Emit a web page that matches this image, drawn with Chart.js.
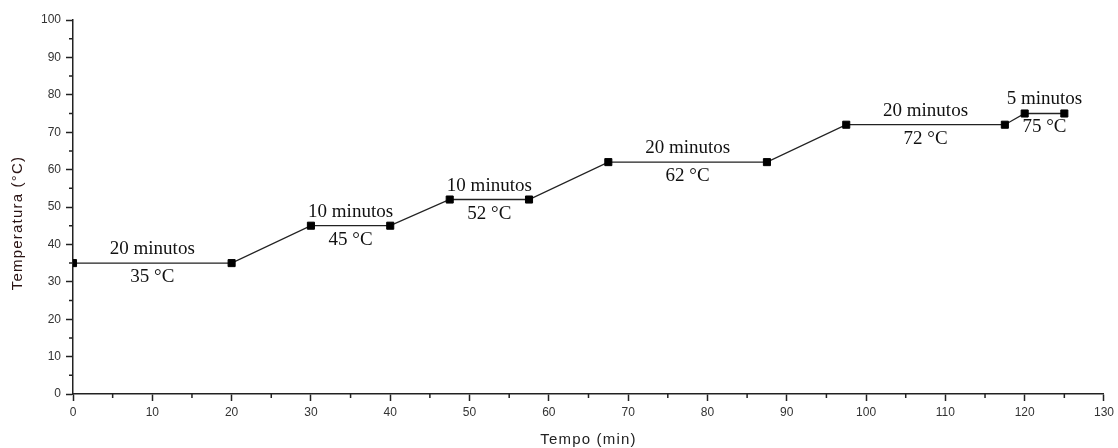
<!DOCTYPE html>
<html lang="pt">

<head>
    <meta charset="utf-8">
    <title>Temperatura x Tempo</title>
    <script src="https://cdn.jsdelivr.net/npm/chart.js"></script>
    <style>
        body {
            margin: 0;
            background-color: #ffffff;
        }

        #grafico {
            display: block;
        }
    </style>
</head>

<body>
    <canvas id="grafico" width="1118" height="448"></canvas>

    <script>
        // Rampa de temperatura: pontos de início e fim de cada patamar
        const tempoMin = [0, 20, 30, 40, 47.5, 57.5, 67.5, 87.5, 97.5, 117.5, 120, 125];
        const temperatura = [35, 35, 45, 45, 52, 52, 62, 62, 72, 72, 75, 75];

        // Duração de cada patamar (um rótulo por par de pontos)
        const duracao = ['20 minutos', '10 minutos', '10 minutos', '20 minutos', '20 minutos', '5 minutos'];

        const corEixo = '#222222';
        const fonteSerif = '"Liberation Serif", "Times New Roman", serif';
        const fonteSans = '"Liberation Sans", Arial, sans-serif';

        // Rótulos de cada patamar: duração acima da linha, temperatura abaixo
        const rotulosPatamar = {
            id: 'rotulosPatamar',
            afterDatasetsDraw(chart) {
                const { ctx, scales: { x, y } } = chart;
                ctx.save();
                ctx.font = '19px ' + fonteSerif;
                ctx.fillStyle = '#111111';
                ctx.textAlign = 'center';
                ctx.textBaseline = 'middle';
                duracao.forEach((txt, i) => {
                    const a = 2 * i, b = 2 * i + 1;
                    const px = x.getPixelForValue((tempoMin[a] + tempoMin[b]) / 2);
                    const py = y.getPixelForValue(temperatura[a]);
                    ctx.fillText(txt, px, py - 14);
                    ctx.fillText(temperatura[a] + ' °C', px, py + 14);
                });
                ctx.restore();
            }
        };

        // Marcas menores (a cada 5 unidades) e títulos dos eixos
        const eixosExtras = {
            id: 'eixosExtras',
            afterDraw(chart) {
                const { ctx, chartArea, scales: { x, y } } = chart;
                ctx.save();
                ctx.strokeStyle = corEixo;
                ctx.lineWidth = 1.5;
                ctx.beginPath();
                for (let v = 5; v < 130; v += 10) {
                    const px = x.getPixelForValue(v);
                    ctx.moveTo(px, chartArea.bottom);
                    ctx.lineTo(px, chartArea.bottom + 4);
                }
                for (let v = 5; v < 100; v += 10) {
                    const py = y.getPixelForValue(v);
                    ctx.moveTo(chartArea.left, py);
                    ctx.lineTo(chartArea.left - 4, py);
                }
                ctx.stroke();

                ctx.font = '15px ' + fonteSans;
                ctx.fillStyle = corEixo;
                ctx.letterSpacing = '1.2px';
                ctx.textAlign = 'center';
                ctx.textBaseline = 'middle';
                ctx.fillText('Tempo (min)', (chartArea.left + chartArea.right) / 2, 440);

                ctx.translate(18, (chartArea.top + chartArea.bottom) / 2 + 16);
                ctx.rotate(-Math.PI / 2);
                ctx.fillStyle = '#2a1414';
                ctx.fillText('Temperatura (°C)', 0, 0);
                ctx.restore();
            }
        };

        const pontos = tempoMin.map((t, i) => ({ x: t, y: temperatura[i] }));

        const config = {
            type: 'line',
            data: {
                datasets: [{
                    label: 'Temperatura',
                    data: pontos,
                    borderColor: corEixo,
                    borderWidth: 1.3,
                    pointStyle: 'rect',
                    pointRadius: 5,
                    pointBorderWidth: 1,
                    pointBackgroundColor: '#000000',
                    pointBorderColor: '#000000',
                    fill: false,
                    tension: 0,
                    clip: 0
                }]
            },
            options: {
                responsive: false,
                animation: false,
                layout: {
                    padding: { top: 20, right: 12, left: 0, bottom: 0 }
                },
                scales: {
                    x: {
                        type: 'linear',
                        min: 0,
                        max: 130,
                        afterFit(scale) { scale.height = 54; },
                        ticks: {
                            stepSize: 10,
                            padding: 4,
                            color: '#333333',
                            font: { family: fonteSans, size: 12 }
                        },
                        grid: {
                            drawOnChartArea: false,
                            tickLength: 7,
                            tickColor: corEixo,
                            tickWidth: 1.5
                        },
                        border: { color: corEixo, width: 1.5 }
                    },
                    y: {
                        min: 0,
                        max: 100,
                        afterFit(scale) { scale.width = 73; },
                        ticks: {
                            stepSize: 10,
                            padding: 5,
                            color: '#333333',
                            font: { family: fonteSans, size: 12 }
                        },
                        grid: {
                            drawOnChartArea: false,
                            tickLength: 7,
                            tickColor: corEixo,
                            tickWidth: 1.5
                        },
                        border: { color: corEixo, width: 1.5 }
                    }
                },
                plugins: {
                    legend: { display: false },
                    tooltip: { enabled: false }
                }
            },
            plugins: [rotulosPatamar, eixosExtras]
        };

        new Chart(document.getElementById('grafico').getContext('2d'), config);
    </script>
</body>

</html>
